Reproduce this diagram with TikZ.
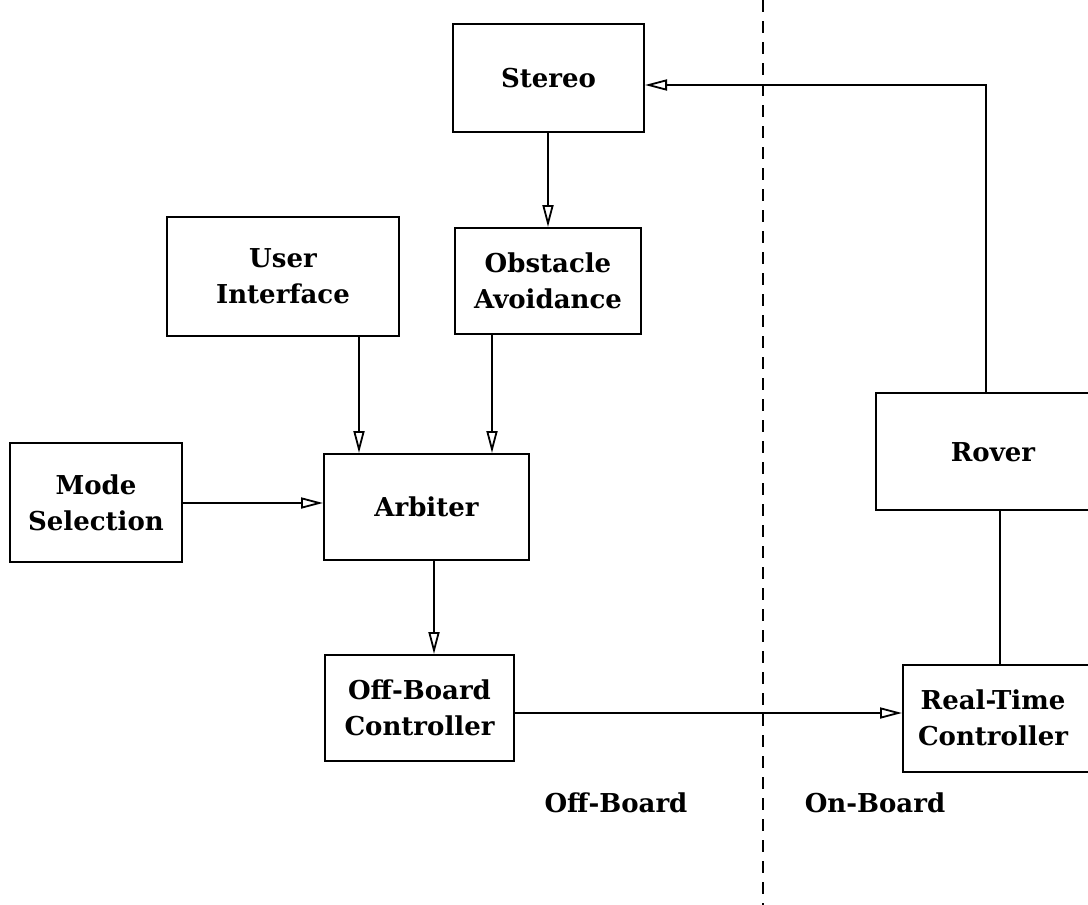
\documentclass[tikz,border=0pt]{standalone}
\usepackage{fontspec}
\setmainfont{DejaVu Serif}
\usetikzlibrary{arrows.meta}
\begin{document}
\begin{tikzpicture}[x=1pt,y=-1pt,
  txt/.style={font=\fontsize{26}{36}\selectfont\bfseries, align=center, inner sep=0pt},
  box/.style={txt, draw, line width=2pt},
  arr/.style={line width=1.8pt, -{Triangle[open, length=22pt, width=11pt, line width=1.8pt]}},
  conn/.style={line width=1.8pt}]
\useasboundingbox (0,0) rectangle (1088,905);
\clip (0,0) rectangle (1088,905);
% off-board side
\node[box, minimum width=191pt, minimum height=108pt] (stereo) at (548.5,78) {Stereo};
\node[box, minimum width=186pt, minimum height=106pt] (obst) at (548,281) {Obstacle\\Avoidance};
\node[box, minimum width=232pt, minimum height=119pt] (ui) at (283,276.5) {User\\Interface};
\node[box, minimum width=172pt, minimum height=119pt] (mode) at (96,502.5) {Mode\\Selection};
\node[box, minimum width=205pt, minimum height=106pt] (arb) at (426.5,507) {Arbiter};
\node[box, minimum width=189pt, minimum height=106pt] (offb) at (419.5,708) {Off-Board\\Controller};
% on-board side (boxes run past the right edge)
\node[box, minimum width=274pt, minimum height=117pt] (rover) at (1013,451.5) {};
\node[txt] (roverlbl) at (993,452) {Rover};
\node[box, minimum width=247pt, minimum height=107pt] (rt) at (1026.5,718.5) {};
\node[txt] (rtlbl) at (993,718) {Real-Time\\Controller};
% divider
\coordinate (dtop) at (763,0);
\coordinate (dbot) at (763,905);
\draw[line width=2pt, dash pattern=on 12pt off 9pt] (dtop) -- (dbot);
\node[txt] (offlbl) at (616,803) {Off-Board};
\node[txt] (onlbl) at (875,803) {On-Board};
% helper coordinates
\coordinate (xst) at (548,0);
\coordinate (xui) at (359,0);
\coordinate (xob) at (492,0);
\coordinate (xar) at (434,0);
\coordinate (ymo) at (0,503);
\coordinate (yof) at (0,713);
\coordinate (xrt) at (1000,0);
\coordinate (xrv) at (986,0);
\coordinate (yst) at (0,85);
% connectors
\draw[arr] (stereo.south -| xst) -- (obst.north -| xst);
\draw[arr] (ui.south -| xui) -- (arb.north -| xui);
\draw[arr] (obst.south -| xob) -- (arb.north -| xob);
\draw[arr] (mode.east |- ymo) -- (arb.west |- ymo);
\draw[arr] (arb.south -| xar) -- (offb.north -| xar);
\draw[arr] (offb.east |- yof) -- (rt.west |- yof);
\draw[conn] (rover.south -| xrt) -- (rt.north -| xrt);
\draw[arr] (rover.north -| xrv) |- (stereo.east |- yst);
\end{tikzpicture}
\end{document}
